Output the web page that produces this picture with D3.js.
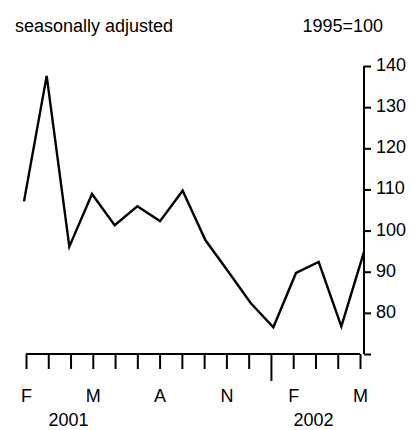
<!DOCTYPE html>
<html>
<head>
<meta charset="utf-8">
<script src="https://cdn.jsdelivr.net/npm/d3@7"></script>
<style>
	body { margin: 0; background: #fff; }
	text { font-family: "Liberation Sans", Arial, sans-serif; font-size: 18px; fill: #000; }
</style>
</head>
<body>
<script>
// monthly index, Feb 2001 .. May 2002
var months = ["Feb 2001", "Mar 2001", "Apr 2001", "May 2001", "Jun 2001", "Jul 2001", "Aug 2001", "Sep 2001",
	"Oct 2001", "Nov 2001", "Dec 2001", "Jan 2002", "Feb 2002", "Mar 2002", "Apr 2002", "May 2002"];
var values = [107.1, 137.6, 96.1, 108.9, 101.3, 105.9, 102.3, 109.7, 97.7, 90.1, 82.4, 76.5, 89.7, 92.4, 76.7, 94.8];
var monthLabels = ["F", "", "", "M", "", "", "A", "", "", "N", "", "", "F", "", "", "M"];
var yTicks = [70, 80, 90, 100, 110, 120, 130, 140];
var yTickLabels = ["", "80", "90", "100", "110", "120", "130", "140"];
var years = [{label: "2001", at: "Apr 2001"}, {label: "2002", at: "Mar 2002"}];

var width = 411, height = 430;

var svg = d3.select('body')
	.append('svg')
	.attr('width', width)
	.attr('height', height);

var y = d3.scaleLinear()
	.domain([70, 140])
	.range([354, 66]);

// axis ticks and the line sit on slightly different spans in the original
var xAxisScale = d3.scalePoint()
	.domain(months)
	.range([26, 360]);

var xLine = d3.scalePoint()
	.domain(months)
	.range([24, 364]);

// header texts
svg.append('text')
	.attr('x', 15)
	.attr('y', 32)
	.text('seasonally adjusted');

svg.append('text')
	.attr('x', 383)
	.attr('y', 32)
	.attr('text-anchor', 'end')
	.text('1995=100');

// right axis
var yAxis = d3.axisRight(y)
	.tickValues(yTicks)
	.tickSize(7)
	.tickPadding(5)
	.tickFormat(function(d, i) { return yTickLabels[i]; });

var gy = svg.append('g')
	.attr('transform', 'translate(364,0)')
	.call(yAxis);
gy.select('.domain').attr('d', 'M0,' + y(140) + 'V' + y(70));

// bottom axis
var xAxis = d3.axisBottom(xAxisScale)
	.tickSize(15)
	.tickPadding(7)
	.tickFormat(function(d, i) { return monthLabels[i]; });

var gx = svg.append('g')
	.attr('transform', 'translate(0,354)')
	.call(xAxis);
gx.select('.domain').attr('d', 'M' + xAxisScale(months[0]) + ',0H' + xAxisScale(months[months.length - 1]));

// year boundary gets the long tick
gx.selectAll('.tick line')
	.attr('y2', function(d) { return d == "Jan 2002" ? 27 : 15; });
gx.selectAll('.tick text').attr('y', 35);

svg.selectAll('.domain, .tick line')
	.attr('stroke', '#000')
	.attr('stroke-width', 2);
gx.selectAll('.tick text')
	.attr('font-size', 18)
	.attr('font-family', '"Liberation Sans", Arial, sans-serif');
gy.selectAll('.tick text')
	.attr('font-size', 17)
	.attr('dy', '0.25em')
	.attr('font-family', '"Liberation Sans", Arial, sans-serif');

// years
svg.selectAll('.year')
	.data(years)
	.enter().append('text')
		.attr('class', 'year')
		.attr('x', function(d) { return xAxisScale(d.at) - 2; })
		.attr('y', 426)
		.attr('text-anchor', 'middle')
		.text(function(d) { return d.label; });

// index line
var line = d3.line()
	.x(function(d, i) { return xLine(months[i]); })
	.y(function(d) { return y(d); });

svg.append('path')
	.datum(values)
	.attr('d', line)
	.attr('fill', 'none')
	.attr('stroke', '#000')
	.attr('stroke-width', 2.4)
	.attr('stroke-linejoin', 'miter');
</script>
</body>
</html>
